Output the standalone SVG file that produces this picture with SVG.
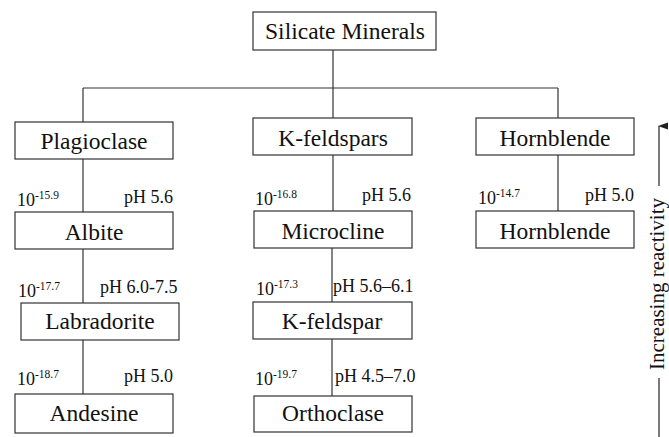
<svg xmlns="http://www.w3.org/2000/svg" width="669" height="437" viewBox="0 0 669 437" font-family="'Liberation Serif', 'DejaVu Serif', 'Times New Roman', serif">
<style>
  .box rect { fill: #fff; stroke: #333; stroke-width: 1.2; }
  .box text { font-family: 'Liberation Serif', 'DejaVu Serif', 'Times New Roman', serif; font-size: 23.5px; fill: #111; text-anchor: middle; }
  .conn line { stroke: #333; stroke-width: 1.2; }
  .lbl { font-family: 'Liberation Serif', 'DejaVu Serif', 'Times New Roman', serif; font-size: 18px; fill: #111; }
  .sup { font-size: 11.5px; }
  .r { text-anchor: end; }
  .axis { font-family: 'Liberation Serif', 'DejaVu Serif', 'Times New Roman', serif; font-size: 21px; fill: #111; text-anchor: middle; }
</style>
<defs>
  <marker id="arr" markerWidth="8" markerHeight="10" refX="4" refY="1" orient="auto-start-reverse" markerUnits="userSpaceOnUse" viewBox="0 0 8 10">
    <path d="M0.5,10 L4,0 L7.5,10 Z" fill="#222"/>
  </marker>
</defs>
<g class="conn" id="connectors">
  <line x1="333" y1="50" x2="333" y2="88"/>
  <line x1="83" y1="88" x2="558" y2="88"/>
  <line x1="83" y1="88" x2="83" y2="122"/>
  <line x1="333" y1="88" x2="333" y2="118"/>
  <line x1="558" y1="88" x2="558" y2="118"/>
  <line x1="83" y1="159" x2="83" y2="212"/>
  <line x1="333" y1="155" x2="333" y2="211"/>
  <line x1="558" y1="155" x2="558" y2="211"/>
  <line x1="83" y1="249" x2="83" y2="303"/>
  <line x1="332" y1="248" x2="332" y2="302"/>
  <line x1="83" y1="340" x2="83" y2="394"/>
  <line x1="332" y1="339" x2="332" y2="396"/>
</g>
<g class="box" id="silicate"><rect x="253" y="12" width="183" height="38"/><text x="345" y="39">Silicate Minerals</text></g>
<g class="box" id="plagioclase"><rect x="15" y="122" width="158" height="37"/><text x="94" y="149">Plagioclase</text></g>
<g class="box" id="kfeldspars"><rect x="253" y="118" width="159" height="37"/><text x="333" y="146">K-feldspars</text></g>
<g class="box" id="hornblende-top"><rect x="476" y="118" width="158" height="37"/><text x="555" y="146">Hornblende</text></g>
<g class="box" id="albite"><rect x="15" y="212" width="158" height="37"/><text x="94" y="240">Albite</text></g>
<g class="box" id="microcline"><rect x="254" y="211" width="158" height="37"/><text x="333" y="239">Microcline</text></g>
<g class="box" id="hornblende"><rect x="476" y="211" width="158" height="37"/><text x="555" y="239">Hornblende</text></g>
<g class="box" id="labradorite"><rect x="21" y="303" width="158" height="37"/><text x="100" y="329">Labradorite</text></g>
<g class="box" id="kfeldspar"><rect x="253" y="302" width="159" height="37"/><text x="332" y="329">K-feldspar</text></g>
<g class="box" id="andesine"><rect x="15" y="394" width="158" height="39"/><text x="94" y="421">Andesine</text></g>
<g class="box" id="orthoclase"><rect x="254" y="396" width="158" height="36"/><text x="333" y="421">Orthoclase</text></g>
<g id="labels">
  <text class="lbl" x="17" y="206">10<tspan class="sup" dy="-7">-15.9</tspan></text>
  <text class="lbl r" x="173" y="203">pH 5.6</text>
  <text class="lbl" x="255" y="205">10<tspan class="sup" dy="-7">-16.8</tspan></text>
  <text class="lbl r" x="411" y="201">pH 5.6</text>
  <text class="lbl" x="478" y="204">10<tspan class="sup" dy="-7">-14.7</tspan></text>
  <text class="lbl r" x="634" y="201">pH 5.0</text>
  <text class="lbl" x="18" y="297">10<tspan class="sup" dy="-7">-17.7</tspan></text>
  <text class="lbl" x="100" y="293">pH 6.0-7.5</text>
  <text class="lbl" x="256" y="295">10<tspan class="sup" dy="-7">-17.3</tspan></text>
  <text class="lbl" x="333" y="292">pH 5.6–6.1</text>
  <text class="lbl" x="17" y="385">10<tspan class="sup" dy="-7">-18.7</tspan></text>
  <text class="lbl r" x="173" y="382">pH 5.0</text>
  <text class="lbl" x="255" y="385">10<tspan class="sup" dy="-7">-19.7</tspan></text>
  <text class="lbl" x="335" y="382">pH 4.5–7.0</text>
</g>
<g id="reactivity-axis">
  <line x1="659" y1="186" x2="659" y2="126" stroke="#222" stroke-width="1.2" marker-end="url(#arr)"/>
  <line x1="659" y1="378" x2="659" y2="437" stroke="#222" stroke-width="1.2"/>
  <text class="axis" transform="translate(664,284) rotate(-90)">Increasing reactivity</text>
</g>
</svg>
